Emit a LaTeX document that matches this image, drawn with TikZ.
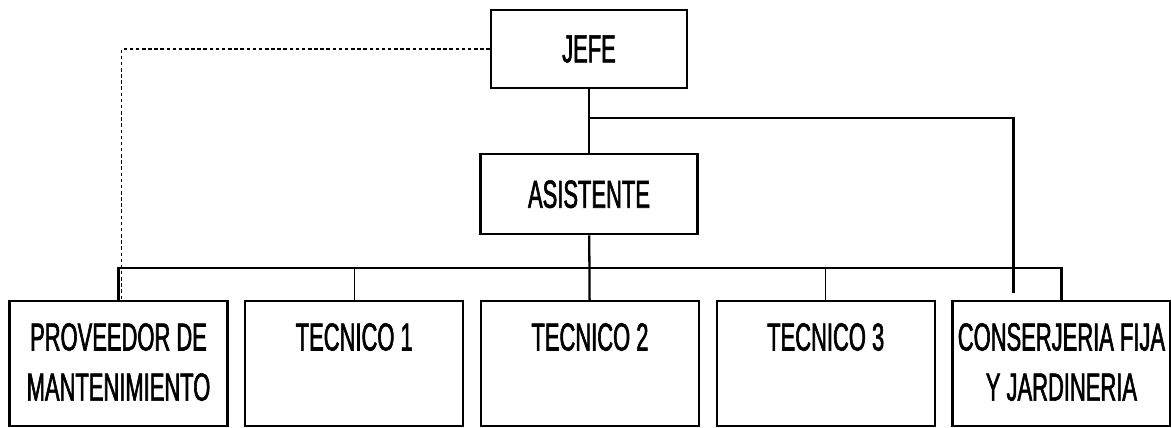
\documentclass[tikz,border=0pt]{standalone}
\usepackage{fontspec}
\setmainfont[FakeStretch=0.56, FakeBold=1.5]{Liberation Sans}
\usetikzlibrary{positioning, calc}
\tikzset{
    base/.style={draw, line width=1.3pt, font=\fontsize{22.3}{28.5}\selectfont},
    headbox/.style={base, rectangle, minimum height=1.56cm},
    unitbox/.style={base, rectangle, anchor=north, inner xsep=0pt, inner ysep=0.44cm, minimum width=4.36cm},
    link/.style={draw, line width=1.3pt},
    thinlink/.style={draw, line width=0.8pt},
    dotlink/.style={draw, line width=0.9pt, dash pattern=on 2pt off 1.5pt}
}
\newcommand{\unittext}[1]{\parbox[t][1.62cm][t]{4.3cm}{\centering #1}}

\begin{document}
\begin{tikzpicture}[x=0.02cm, y=-0.02cm]
    \useasboundingbox (0,0) rectangle (1171,427);
    % Head of the chart
    \node [headbox, minimum width=3.92cm] (jefe) at (589,49) {JEFE};
    \node [headbox, minimum width=4.34cm, minimum height=1.6cm, below=1.28cm of jefe] (asis) {ASISTENTE};

    % Units (one row)
    \node [unitbox] (prov) at (118.5,300) {\unittext{PROVEEDOR DE\\MANTENIMIENTO}};
    \node [unitbox, right=0.31cm of prov] (tec1) {\unittext{TECNICO 1}};
    \node [unitbox, right=0.31cm of tec1] (tec2) {\unittext{TECNICO 2}};
    \node [unitbox, right=0.31cm of tec2] (tec3) {\unittext{TECNICO 3}};
    \node [unitbox, right=0.31cm of tec3] (cons) {\unittext{CONSERJERIA FIJA\\Y JARDINERIA}};

    \coordinate (split) at ($(jefe.south)!0.45!(asis.north)$);
    \coordinate (bus) at ($(asis.south)!0.5!(tec2.north)$);

    % Connections
    \draw [link] (jefe) -- (asis);
    \draw [link, shorten >=0.14cm] (split) -| ([xshift=-0.96cm]cons.north);
    \draw [link] (asis) -- (tec2);
    \draw [link] (prov.north) |- (bus) -| (cons.north);
    \foreach \n in {tec1, tec3}
        \draw [thinlink] (\n.north) -- (\n.north |- bus);
    \draw [dotlink] (jefe.west) -| ([xshift=0.06cm]prov.north);
\end{tikzpicture}
\end{document}
